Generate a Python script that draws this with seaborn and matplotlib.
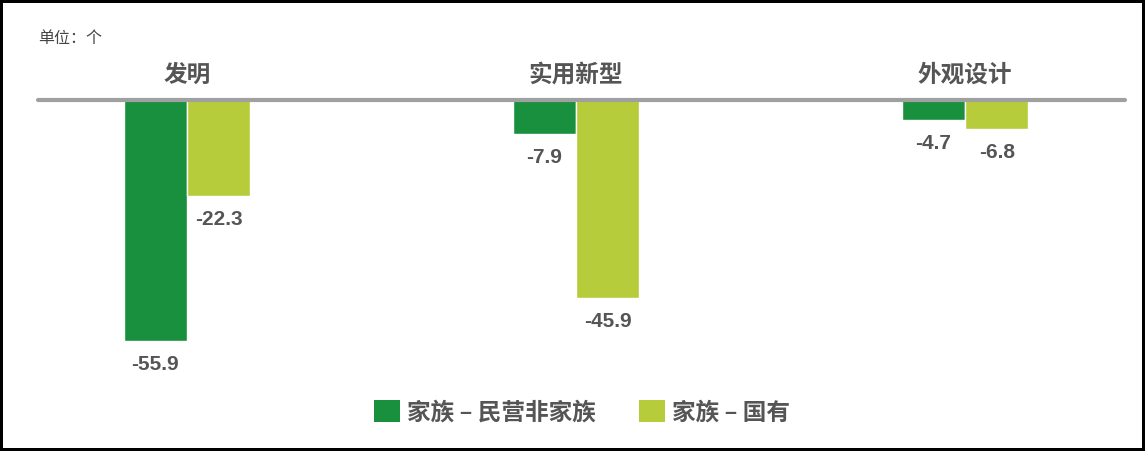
import matplotlib
matplotlib.use("Agg")
import matplotlib.pyplot as plt
import seaborn as sns
import pandas as pd
from matplotlib.patches import Patch

categories = ["发明", "实用新型", "外观设计"]
series_names = ["家族 – 民营非家族", "家族 – 国有"]
values_private = [-55.9, -7.9, -4.7]
values_state = [-22.3, -45.9, -6.8]
unit_label = "单位：个"

colors = ["#18903e", "#b6cc3a"]
text_color = "#555555"

df = pd.DataFrame({
    "category": categories * 2,
    "series": [series_names[0]] * 3 + [series_names[1]] * 3,
    "value": values_private + values_state,
})

sns.set_theme(style="white")
plt.rcParams["font.family"] = ["Noto Sans CJK SC", "DejaVu Sans"]

fig = plt.figure(figsize=(11.45, 4.51), dpi=100)
ax = fig.add_axes([0.0332, 0.2049, 0.9493, 0.5734])

sns.barplot(data=df, x="category", y="value", hue="series", order=categories,
            hue_order=series_names, palette=colors, width=0.326, saturation=1,
            ax=ax, legend=False, errorbar=None)

ax.set_xlim(-0.383, 2.411)
ax.set_ylim(-60, 0)
ax.axhline(0, color="#a0a0a0", lw=3, zorder=5, clip_on=False)
for s in ax.spines.values():
    s.set_visible(False)
ax.set_xticks([])
ax.set_yticks([])
ax.set_xlabel("")
ax.set_ylabel("")

for cont in ax.containers:
    ax.bar_label(cont, fmt="%.1f", padding=10, color=text_color, fontsize=15,
                 fontweight="bold", family=["Liberation Sans", "DejaVu Sans"])

for i, c in enumerate(categories):
    ax.text(i, 1.097, c, transform=ax.get_xaxis_transform(), ha="center", va="center",
            fontsize=17, fontweight="bold", color=text_color)

fig.text(38 / 1145, 1 - 38 / 451, unit_label, ha="left", va="center",
         fontsize=11.5, color="#444444")

handles = [Patch(facecolor=colors[i], edgecolor="none", label=series_names[i]) for i in range(2)]
leg = fig.legend(handles=handles, loc="center", bbox_to_anchor=(582 / 1145, 1 - 412 / 451),
                 ncol=2, frameon=False, fontsize=17, handlelength=1.1, handleheight=1.1,
                 handletextpad=0.3, columnspacing=1.8)
for t in leg.get_texts():
    t.set_color(text_color)
    t.set_fontweight("bold")

fig.patch.set_edgecolor("black")
fig.patch.set_linewidth(4)

fig.savefig("out.png", dpi=100, edgecolor=fig.get_edgecolor())
